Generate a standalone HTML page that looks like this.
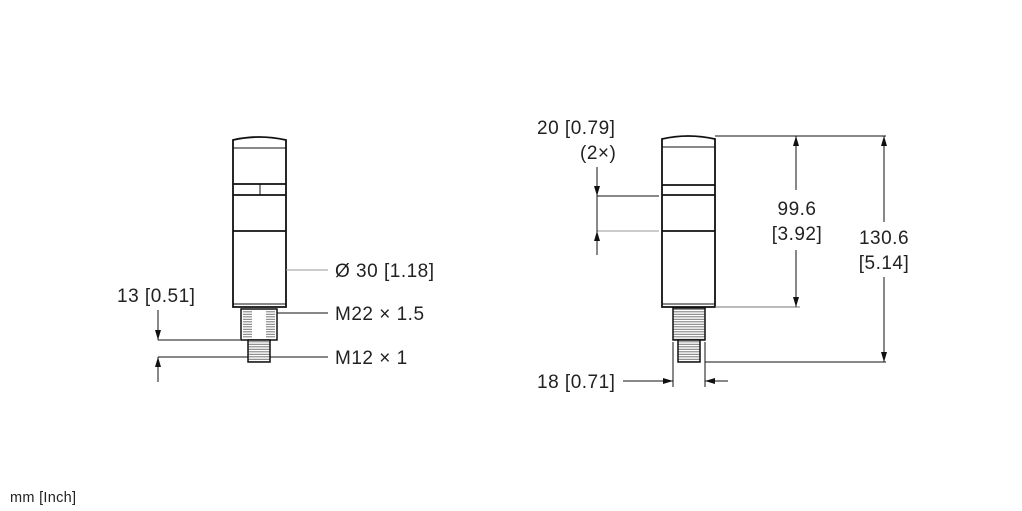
<!DOCTYPE html>
<html><head><meta charset="utf-8"><style>
body{margin:0;background:#fff;width:1022px;height:511px;overflow:hidden}
svg{display:block}
text{font-family:"Liberation Sans",sans-serif;fill:#222}
</style></head><body>
<svg width="1022" height="511" viewBox="0 0 1022 511">
<defs>
<pattern id="th" width="4" height="2.5" patternUnits="userSpaceOnUse"><rect width="4" height="2.5" fill="#fff"/><rect y="1.3" width="4" height="1" fill="#777"/></pattern>
<marker id="a" markerWidth="10" markerHeight="8" refX="10" refY="4" orient="auto" markerUnits="userSpaceOnUse"><path d="M0,1 L10,4 L0,7 Z" fill="#111"/></marker>
</defs>
<g stroke="#111" stroke-width="1.8" fill="#fff">
<path d="M233,140 Q259,134 286,140 L286,307 L233,307 Z"/>
<line x1="233" y1="148" x2="286" y2="148" stroke-width="1"/>
<line x1="233" y1="184" x2="286" y2="184"/>
<line x1="233" y1="195" x2="286" y2="195"/>
<line x1="260" y1="184" x2="260" y2="195" stroke-width="1"/>
<line x1="233" y1="231" x2="286" y2="231"/>
<line x1="233" y1="304" x2="286" y2="304" stroke-width="1"/>
<rect x="241" y="309" width="36" height="31" stroke-width="1.5"/>
<rect x="243" y="311" width="9" height="27" fill="url(#th)" stroke="none"/>
<rect x="266" y="311" width="9" height="27" fill="url(#th)" stroke="none"/>
<rect x="248" y="340" width="22" height="22" stroke-width="1.5" fill="url(#th)"/>
<path d="M662,139 Q688,133 715,139 L715,307 L662,307 Z"/>
<line x1="662" y1="147" x2="715" y2="147" stroke-width="1"/>
<line x1="662" y1="185" x2="715" y2="185"/>
<line x1="662" y1="195" x2="715" y2="195"/>
<line x1="662" y1="231" x2="715" y2="231"/>
<line x1="662" y1="304" x2="715" y2="304" stroke-width="1"/>
<rect x="673" y="308" width="32" height="32" stroke-width="1.5" fill="url(#th)"/>
<rect x="678" y="340" width="22" height="22" stroke-width="1.5" fill="url(#th)"/>
</g>
<g stroke="#111" stroke-width="1" fill="none">
<line x1="286" y1="270" x2="328" y2="270" stroke="#999"/>
<line x1="277" y1="313" x2="328" y2="313"/>
<line x1="270" y1="357" x2="328" y2="357"/>
<line x1="158" y1="340" x2="240" y2="340"/>
<line x1="158" y1="357" x2="248" y2="357"/>
<line x1="158" y1="310" x2="158" y2="340" marker-end="url(#a)"/>
<line x1="158" y1="382" x2="158" y2="357" marker-end="url(#a)"/>
<line x1="715" y1="136" x2="886" y2="136"/>
<line x1="715" y1="307" x2="800" y2="307" stroke="#777"/>
<line x1="705" y1="362" x2="886" y2="362"/>
<line x1="796" y1="190" x2="796" y2="136" marker-end="url(#a)"/>
<line x1="796" y1="250" x2="796" y2="307" marker-end="url(#a)"/>
<line x1="884" y1="222" x2="884" y2="136" marker-end="url(#a)"/>
<line x1="884" y1="277" x2="884" y2="362" marker-end="url(#a)"/>
<line x1="597" y1="196" x2="659" y2="196"/>
<line x1="597" y1="231" x2="659" y2="231" stroke="#999"/>
<line x1="597" y1="167" x2="597" y2="196" marker-end="url(#a)"/>
<line x1="597" y1="255" x2="597" y2="231" marker-end="url(#a)"/>
<line x1="597" y1="196" x2="597" y2="231"/>
<line x1="673" y1="342" x2="673" y2="387"/>
<line x1="705" y1="342" x2="705" y2="387"/>
<line x1="623" y1="381" x2="673" y2="381" marker-end="url(#a)"/>
<line x1="728" y1="381" x2="705" y2="381" marker-end="url(#a)"/>
</g>
<g font-size="19" letter-spacing="0.5">
<text x="335" y="277">Ø 30 [1.18]</text>
<text x="335" y="320">M22 × 1.5</text>
<text x="335" y="364">M12 × 1</text>
<text x="117" y="302">13 [0.51]</text>
<text x="537" y="134">20 [0.79]</text>
<text x="580" y="159">(2×)</text>
<text x="797" y="215" text-anchor="middle">99.6</text>
<text x="797" y="240" text-anchor="middle">[3.92]</text>
<text x="884" y="244" text-anchor="middle">130.6</text>
<text x="884" y="269" text-anchor="middle">[5.14]</text>
<text x="537" y="388">18 [0.71]</text>
</g>
<text x="10" y="502" font-size="14.5" letter-spacing="0.3">mm [Inch]</text>
</svg>
</body></html>
